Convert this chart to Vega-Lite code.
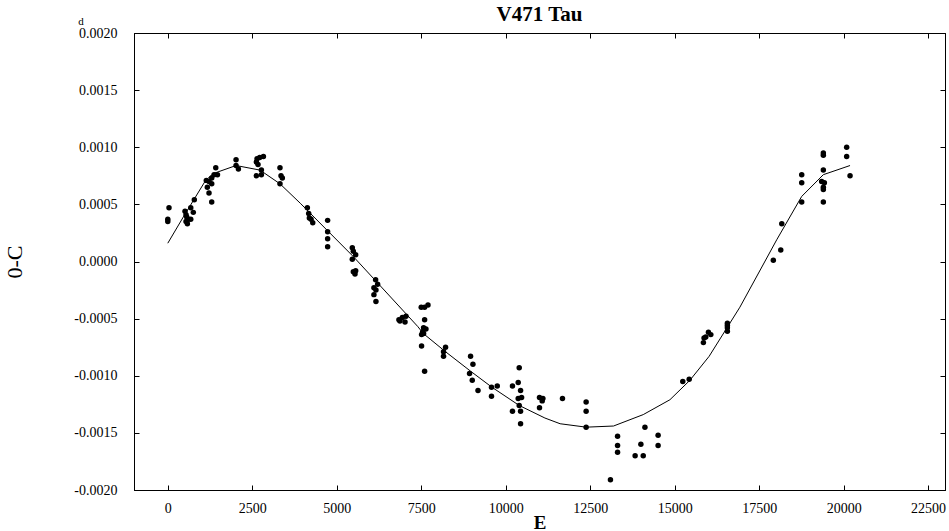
{
  "$schema": "https://vega.github.io/schema/vega-lite/v6.json",
  "width": 811,
  "height": 457,
  "autosize": {"type": "none"},
  "padding": {"left": 134, "top": 33, "right": 4, "bottom": 41},
  "background": "white",
  "title": {"text": "V471 Tau", "font": "Liberation Serif", "fontSize": 21, "fontWeight": "bold", "color": "black", "offset": -9, "anchor": "middle"},
  "config": {
    "view": {"stroke": "black", "strokeWidth": 1},
    "axis": {"grid": false, "domainColor": "black", "tickColor": "black", "labelColor": "black", "titleColor": "black", "labelFont": "Liberation Serif", "labelFontSize": 14, "titleFont": "Liberation Serif"}
  },
  "datasets": {
    "obs": [
      {"E":36,"OC":0.00047},{"E":0,"OC":0.00037},{"E":0,"OC":0.00035},
      {"E":510,"OC":0.00044},{"E":540,"OC":0.00041},{"E":560,"OC":0.00039},{"E":610,"OC":0.00037},{"E":540,"OC":0.00035},{"E":580,"OC":0.00033},
      {"E":680,"OC":0.00047},{"E":755,"OC":0.00043},{"E":680,"OC":0.00037},{"E":785,"OC":0.00054},
      {"E":1140,"OC":0.00071},{"E":1220,"OC":0.0007},{"E":1300,"OC":0.00073},{"E":1370,"OC":0.00076},{"E":1420,"OC":0.00082},{"E":1470,"OC":0.00076},
      {"E":1170,"OC":0.00065},{"E":1220,"OC":0.0006},{"E":1300,"OC":0.00052},{"E":1300,"OC":0.00068},
      {"E":2020,"OC":0.00089},{"E":2020,"OC":0.00084},{"E":2090,"OC":0.00081},
      {"E":2640,"OC":0.0009},{"E":2720,"OC":0.00091},{"E":2830,"OC":0.00092},{"E":2620,"OC":0.00087},{"E":2670,"OC":0.00085},{"E":2770,"OC":0.0008},{"E":2620,"OC":0.00075},{"E":2770,"OC":0.00076},
      {"E":3320,"OC":0.00082},{"E":3350,"OC":0.00075},{"E":3390,"OC":0.00073},{"E":3320,"OC":0.00068},
      {"E":4130,"OC":0.00047},{"E":4170,"OC":0.00042},{"E":4190,"OC":0.00038},{"E":4240,"OC":0.00037},{"E":4290,"OC":0.00034},
      {"E":4730,"OC":0.00036},{"E":4730,"OC":0.00026},{"E":4730,"OC":0.0002},{"E":4730,"OC":0.00013},
      {"E":5460,"OC":0.00012},{"E":5560,"OC":0.00006},{"E":5460,"OC":0.00002},{"E":5490,"OC":0.00009},
      {"E":5490,"OC":-0.00009},{"E":5540,"OC":-0.00011},{"E":5560,"OC":-0.00008},
      {"E":6150,"OC":-0.00016},{"E":6210,"OC":-0.0002},{"E":6100,"OC":-0.00023},{"E":6160,"OC":-0.00025},{"E":6100,"OC":-0.00029},{"E":6160,"OC":-0.00035},
      {"E":7500,"OC":-0.0004},{"E":7600,"OC":-0.0004},{"E":7700,"OC":-0.00038},
      {"E":6840,"OC":-0.00051},{"E":6940,"OC":-0.00049},{"E":7050,"OC":-0.00048},{"E":7020,"OC":-0.00053},{"E":6870,"OC":-0.00052},
      {"E":7600,"OC":-0.00051},{"E":7570,"OC":-0.00058},
      {"E":7580,"OC":-0.00059},{"E":7640,"OC":-0.00059},{"E":7540,"OC":-0.00062},{"E":7510,"OC":-0.00064},{"E":7570,"OC":-0.00063},
      {"E":7510,"OC":-0.00074},{"E":7600,"OC":-0.00096},
      {"E":8220,"OC":-0.00075},{"E":8160,"OC":-0.00079},{"E":8160,"OC":-0.00083},
      {"E":8960,"OC":-0.00083},{"E":9030,"OC":-0.0009},{"E":8930,"OC":-0.00098},{"E":9010,"OC":-0.00104},{"E":9180,"OC":-0.00113},
      {"E":9580,"OC":-0.0011},{"E":9750,"OC":-0.00109},{"E":9580,"OC":-0.00118},
      {"E":10400,"OC":-0.00093},{"E":10200,"OC":-0.00109},{"E":10370,"OC":-0.00106},{"E":10440,"OC":-0.00113},{"E":10370,"OC":-0.0012},{"E":10470,"OC":-0.00119},{"E":10400,"OC":-0.00126},{"E":10200,"OC":-0.00131},{"E":10440,"OC":-0.00131},{"E":10440,"OC":-0.00142},
      {"E":11000,"OC":-0.00119},{"E":11100,"OC":-0.0012},{"E":11080,"OC":-0.00122},{"E":11000,"OC":-0.00128},{"E":11680,"OC":-0.0012},
      {"E":12380,"OC":-0.00123},{"E":12380,"OC":-0.00131},{"E":12380,"OC":-0.00145},
      {"E":13310,"OC":-0.00153},{"E":13310,"OC":-0.00161},{"E":13310,"OC":-0.00167},{"E":13100,"OC":-0.00191},
      {"E":13830,"OC":-0.0017},{"E":14070,"OC":-0.0017},{"E":14000,"OC":-0.0016},{"E":14120,"OC":-0.00145},{"E":14510,"OC":-0.00152},{"E":14510,"OC":-0.00161},
      {"E":15240,"OC":-0.00105},{"E":15430,"OC":-0.00103},
      {"E":15850,"OC":-0.00071},{"E":15870,"OC":-0.00067},{"E":15920,"OC":-0.00066},{"E":16000,"OC":-0.00062},{"E":16070,"OC":-0.00064},
      {"E":16560,"OC":-0.00054},{"E":16560,"OC":-0.00056},{"E":16560,"OC":-0.00058},{"E":16560,"OC":-0.00061},
      {"E":17920,"OC":0.00001},{"E":18140,"OC":0.0001},{"E":18170,"OC":0.00033},
      {"E":18760,"OC":0.00076},{"E":18760,"OC":0.00069},{"E":18760,"OC":0.00052},
      {"E":19400,"OC":0.00095},{"E":19400,"OC":0.00093},{"E":19400,"OC":0.0008},{"E":19350,"OC":0.0007},{"E":19430,"OC":0.00069},{"E":19400,"OC":0.00065},{"E":19400,"OC":0.00063},{"E":19400,"OC":0.00052},
      {"E":20090,"OC":0.001},{"E":20090,"OC":0.00092},{"E":20190,"OC":0.00075}
    ],
    "fit": [
      {"E":0,"OC":0.00016},{"E":460,"OC":0.00039},{"E":1120,"OC":0.00071},{"E":1350,"OC":0.00077},{"E":2020,"OC":0.00084},{"E":2730,"OC":0.0008},{"E":3320,"OC":0.00068},{"E":3920,"OC":0.00051},{"E":5500,"OC":0.00004},{"E":7400,"OC":-0.00057},{"E":7560,"OC":-0.00063},{"E":8220,"OC":-0.00079},{"E":8960,"OC":-0.00096},{"E":9590,"OC":-0.0011},{"E":10400,"OC":-0.00126},{"E":11160,"OC":-0.00137},{"E":11610,"OC":-0.00142},{"E":12380,"OC":-0.00145},{"E":13190,"OC":-0.00144},{"E":14070,"OC":-0.00134},{"E":14860,"OC":-0.00121},{"E":15450,"OC":-0.00104},{"E":16020,"OC":-0.00083},{"E":16930,"OC":-0.0004},{"E":18020,"OC":0.00019},{"E":18760,"OC":0.00057},{"E":19400,"OC":0.00076},{"E":20190,"OC":0.00084}
    ]
  },
  "layer": [
    {"data": {"name": "fit"}, "mark": {"type": "line", "color": "black", "strokeWidth": 1},
      "encoding": {
        "x": {"field": "E", "type": "quantitative", "scale": {"domain": [-1000, 23000], "nice": false, "zero": false},
          "axis": {"orient": "bottom", "title": "E", "titleFontSize": 19, "titleFontWeight": "bold", "titlePadding": -2, "values": [0,2500,5000,7500,10000,12500,15000,17500,20000,22500], "format": "d", "tickSize": -5, "labelPadding": 16}},
        "y": {"field": "OC", "type": "quantitative", "scale": {"domain": [-0.002, 0.002], "nice": false, "zero": false},
          "axis": {"orient": "left", "title": "0-C", "titleFontSize": 22, "titleFontWeight": "normal", "titlePadding": 47, "values": [-0.002,-0.0015,-0.001,-0.0005,0,0.0005,0.001,0.0015,0.002], "labelExpr": "replace(format(datum.value, '.4f'), '\u2212', '-')", "tickSize": -5, "labelPadding": 22}}
      }},
    {"data": {"name": "obs"}, "mark": {"type": "point", "shape": "circle", "filled": true, "color": "black", "opacity": 1, "size": 30},
      "encoding": {
        "x": {"field": "E", "type": "quantitative", "axis": null},
        "y": {"field": "OC", "type": "quantitative", "axis": null}
      }},
    {"data": {"values": [{}]}, "mark": {"type": "text", "text": "d", "font": "Liberation Serif", "fontSize": 11, "color": "black", "clip": false},
      "encoding": {"x": {"datum": -2570, "type": "quantitative", "axis": null}, "y": {"datum": 0.0021, "type": "quantitative", "axis": null}}},
    {"data": {"values": [{}]}, "mark": {"type": "rule", "opacity": 0},
      "encoding": {"x": {"datum": 0, "type": "quantitative", "axis": {"orient": "top", "title": null, "labels": false, "values": [0,2500,5000,7500,10000,12500,15000,17500,20000,22500], "tickSize": -5}},
                   "y": {"datum": 0, "type": "quantitative", "axis": {"orient": "right", "title": null, "labels": false, "values": [-0.002,-0.0015,-0.001,-0.0005,0,0.0005,0.001,0.0015,0.002], "tickSize": -5}}}}
  ],
  "resolve": {"axis": {"x": "independent", "y": "independent"}}
}
